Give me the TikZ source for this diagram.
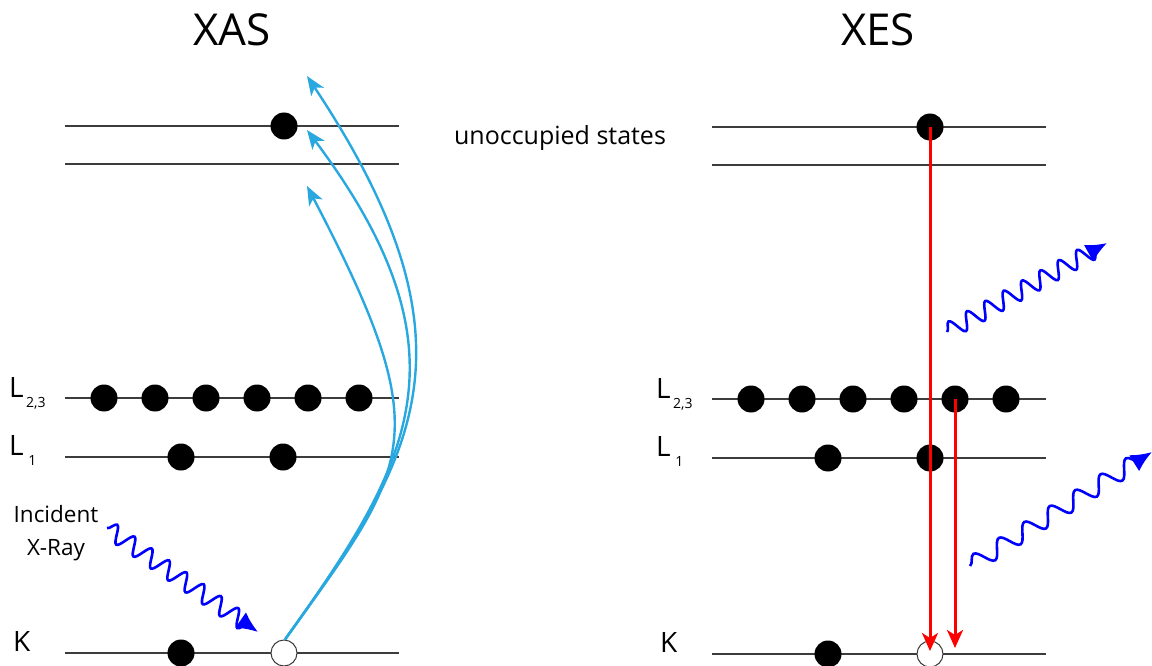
\documentclass[tikz,border=0pt]{standalone}
\usepackage{fontspec}
\setmainfont{Open Sans}
\usetikzlibrary{arrows.meta,decorations.pathmorphing}
\definecolor{curveblue}{RGB}{41,168,224}
\definecolor{waveblue}{RGB}{0,0,255}
\definecolor{arrred}{RGB}{255,0,0}
\definecolor{lvl}{RGB}{60,60,60}
\begin{document}
\begin{tikzpicture}[x=1pt,y=-1pt,
  level/.style={draw=lvl, line width=1.2pt},
  electron/.style={circle, fill=black, minimum size=27pt, inner sep=0pt},
  hole/.style={circle, draw=lvl, fill=white, line width=1pt, minimum size=26pt, inner sep=0pt},
  excite/.style={draw=curveblue, line width=2.4pt, -{Stealth[length=19pt,width=15pt,inset=5pt]}},
  decay/.style={draw=arrred, line width=3pt, -{Stealth[length=18pt,width=16pt,inset=5pt]}},
  photon/.style={draw=waveblue, line width=2.6pt, -{Latex[length=21pt,width=19pt]},
     decoration={snake, amplitude=8.5pt, segment length=#1, post length=9pt}, decorate},
  title/.style={font=\fontsize{44}{50}\selectfont},
  lab/.style={font=\fontsize{28}{32}\selectfont, anchor=base west, inner sep=0pt},
  txt/.style={font=\fontsize{25}{30}\selectfont, inner sep=0pt}
]
\useasboundingbox (0,0) rectangle (1152,666);
\clip (0,0) rectangle (1152,666);

% titles
\node[title] (tXAS) at (232,30) {XAS};
\node[title] (tXES) at (878,30) {XES};
\node[txt] (unocc) at (560,138) {unoccupied states};

% ---------- XAS levels ----------
\foreach \n/\y in {u1/126,u2/164,l23/398,l1/457,k/653}{
  \coordinate (xa\n w) at (65,\y);
  \coordinate (xa\n e) at (399,\y);
  \draw[level] (xa\n w) -- (xa\n e);
}
% ---------- XES levels ----------
\foreach \n/\y in {u1/127,u2/165,l23/399,l1/458,k/654}{
  \coordinate (xe\n w) at (712,\y);
  \coordinate (xe\n e) at (1046,\y);
  \draw[level] (xe\n w) -- (xe\n e);
}

% labels
\node[lab] (xaLL23) at (9,397) {L\raisebox{-10pt}{\fontsize{14}{16}\selectfont\,2,3}};
\node[lab] (xaLL1) at (9,455) {L\raisebox{-10pt}{\fontsize{14}{16}\selectfont\,\,1}};
\node[lab] (xaLK) at (13,651) {K};
\node[lab] (xeLL23) at (656,398) {L\raisebox{-10pt}{\fontsize{14}{16}\selectfont\,2,3}};
\node[lab] (xeLL1) at (656,456) {L\raisebox{-10pt}{\fontsize{14}{16}\selectfont\,\,1}};
\node[lab] (xeLK) at (660,652) {K};

\node[txt, align=center, font=\fontsize{22.5}{33}\selectfont] (incident) at (56,533) {Incident\\X-Ray};

% ---------- XAS electrons ----------
\node[electron] (xatop) at (284,126) {};
\foreach \i/\x in {1/104,2/155,3/206,4/257,5/308,6/359}
  \node[electron] (xal23\i) at (\x,398) {};
\node[electron] (xal11) at (181,457) {};
\node[electron] (xal12) at (283,457) {};
\node[electron] (xak1) at (181,653) {};
\node[hole] (xak2) at (284,653) {};

% excitation curves
\coordinate (tipA) at (307,76);
\coordinate (tipB) at (307,130);
\coordinate (tipC) at (307,186);
\draw[excite] ([xshift=1pt]xak2.north) .. controls (412,462) and (489,350) .. (tipA);
\draw[excite] ([xshift=1pt]xak2.north) .. controls (410,465) and (475,354) .. (tipB);
\draw[excite] ([xshift=1pt]xak2.north) .. controls (410,465) and (440,440) .. (tipC);

% incident photon
\coordinate (inS) at (107,528);
\coordinate (inE) at (258,632);
\draw[photon=21pt] (inS) -- (inE);

% ---------- XES electrons ----------
\foreach \i/\x in {1/751,2/802,3/853,4/904,5/955,6/1006}
  \node[electron] (xel23\i) at (\x,399) {};
\node[electron] (xel11) at (828,458) {};
\node[electron] (xel12) at (930,458) {};
\node[electron] (xek1) at (828,654) {};
\node[hole] (xek2) at (930,654) {};
\node[electron] (xetop) at (930,127) {};

% decay arrows
\coordinate (redA) at (930,651);
\coordinate (redB) at (955,648);
\draw[decay] (xetop.center) -- (redA);
\draw[decay] (xel235.center) -- (redB);

% emitted photons
\coordinate (emAS) at (947,332);
\coordinate (emAE) at (1107,243);
\draw[photon=21pt] (emAS) -- (emAE);
\coordinate (emBS) at (970,566);
\coordinate (emBE) at (1152,452);
\draw[photon=30pt] (emBS) -- (emBE);
\end{tikzpicture}
\end{document}
